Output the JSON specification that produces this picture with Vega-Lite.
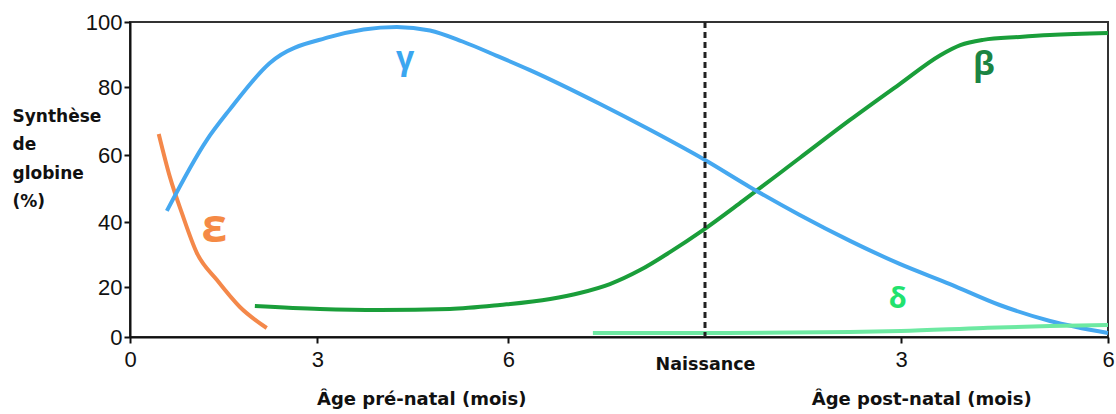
{
  "$schema": "https://vega.github.io/schema/vega-lite/v6.json",
  "autosize": "none",
  "width": 978,
  "height": 315,
  "padding": {"left": 130, "top": 22, "right": 8, "bottom": 77},
  "background": "white",
  "config": {
    "view": {"stroke": "#333333", "strokeWidth": 2},
    "font": "Liberation Sans"
  },
  "datasets": {
    "curves": [
      {"g": "ε", "m": 0.46, "v": 66.2},
      {"g": "ε", "m": 0.64, "v": 53.4},
      {"g": "ε", "m": 0.83, "v": 42.7},
      {"g": "ε", "m": 1.07, "v": 30.5},
      {"g": "ε", "m": 1.39, "v": 22.2},
      {"g": "ε", "m": 1.76, "v": 12.0},
      {"g": "ε", "m": 2.19, "v": 3.6},
      {"g": "β", "m": 2.0, "v": 12.4},
      {"g": "β", "m": 3.04, "v": 11.2},
      {"g": "β", "m": 3.99, "v": 10.8},
      {"g": "β", "m": 5.08, "v": 11.2},
      {"g": "β", "m": 5.87, "v": 12.8},
      {"g": "β", "m": 6.64, "v": 15.2},
      {"g": "β", "m": 7.09, "v": 17.6},
      {"g": "β", "m": 7.55, "v": 20.9},
      {"g": "β", "m": 8.01, "v": 25.2},
      {"g": "β", "m": 8.47, "v": 30.8},
      {"g": "β", "m": 8.97, "v": 37.5},
      {"g": "β", "m": 9.58, "v": 46.3},
      {"g": "β", "m": 10.45, "v": 59.1},
      {"g": "β", "m": 11.22, "v": 70.3},
      {"g": "β", "m": 11.98, "v": 80.9},
      {"g": "β", "m": 12.57, "v": 89.8},
      {"g": "β", "m": 12.86, "v": 92.9},
      {"g": "β", "m": 13.19, "v": 94.5},
      {"g": "β", "m": 13.72, "v": 95.4},
      {"g": "β", "m": 14.16, "v": 96.0},
      {"g": "β", "m": 15.0, "v": 96.6},
      {"g": "γ", "m": 0.59, "v": 43.3},
      {"g": "γ", "m": 1.23, "v": 64.4},
      {"g": "γ", "m": 1.59, "v": 73.2},
      {"g": "γ", "m": 2.24, "v": 87.4},
      {"g": "γ", "m": 3.2, "v": 95.4},
      {"g": "γ", "m": 4.25, "v": 98.5},
      {"g": "γ", "m": 4.77, "v": 97.4},
      {"g": "γ", "m": 5.28, "v": 94.0},
      {"g": "γ", "m": 5.82, "v": 89.6},
      {"g": "γ", "m": 6.33, "v": 85.2},
      {"g": "γ", "m": 7.4, "v": 75.0},
      {"g": "γ", "m": 8.16, "v": 67.4},
      {"g": "γ", "m": 9.0, "v": 58.5},
      {"g": "γ", "m": 9.69, "v": 50.4},
      {"g": "γ", "m": 10.45, "v": 42.1},
      {"g": "γ", "m": 11.22, "v": 34.2},
      {"g": "γ", "m": 11.98, "v": 27.1},
      {"g": "γ", "m": 12.71, "v": 20.9},
      {"g": "γ", "m": 13.43, "v": 12.8},
      {"g": "γ", "m": 14.16, "v": 6.4},
      {"g": "γ", "m": 15.0, "v": 1.6},
      {"g": "δ", "m": 7.29, "v": 1.6},
      {"g": "δ", "m": 9.0, "v": 1.6},
      {"g": "δ", "m": 11.22, "v": 2.0},
      {"g": "δ", "m": 12.0, "v": 2.4},
      {"g": "δ", "m": 13.19, "v": 3.6},
      {"g": "δ", "m": 14.16, "v": 4.4},
      {"g": "δ", "m": 15.0, "v": 4.8}
    ]
  },
  "layer": [
    {
      "data": {"name": "curves"},
      "mark": {"type": "line", "strokeWidth": 4, "interpolate": "monotone", "strokeCap": "butt"},
      "encoding": {
        "x": {
          "field": "m", "type": "quantitative",
          "scale": {"domain": [0, 3, 6, 9, 12, 15], "range": [0, 187.3, 378.3, 575, 771, 978], "nice": false, "zero": false},
          "axis": {
            "title": null,
            "values": [0, 3, 6, 9, 12, 15],
            "labelExpr": "datum.value == 9 ? 'Naissance' : (datum.value > 9 ? '' + (datum.value - 9) : '' + datum.value)",
            "labelFont": {"condition": {"test": "datum.value == 9", "value": "DejaVu Sans"}, "value": "Liberation Sans"},
            "labelFontWeight": {"condition": {"test": "datum.value == 9", "value": "bold"}, "value": "normal"},
            "labelFontSize": {"condition": {"test": "datum.value == 9", "value": 17.5}, "value": 22},
            "labelPadding": {"condition": {"test": "datum.value == 9", "value": 12}, "value": 6},
            "tickOpacity": {"condition": {"test": "datum.value == 9", "value": 0}, "value": 1},
            "labelColor": "#111111",
            "labelFlush": false,
            "labelOverlap": false,
            "grid": false,
            "domainColor": "#111111", "domainWidth": 2,
            "tickColor": "#111111", "tickWidth": 2, "tickSize": 6
          }
        },
        "y": {
          "field": "v", "type": "quantitative",
          "scale": {"domain": [0, 20, 40, 60, 80, 100], "range": [315, 265, 200, 133, 65, 0], "nice": false, "zero": false},
          "axis": {
            "title": ["Synthèse", "de", "globine", "(%)"],
            "titleFont": "DejaVu Sans", "titleFontWeight": "bold", "titleFontSize": 17,
            "titleColor": "#111111",
            "titleAngle": 0, "titleAlign": "left", "titleBaseline": "alphabetic",
            "titleX": -118, "titleY": 99, "titleLineHeight": 28.5,
            "values": [0, 20, 40, 60, 80, 100],
            "labelFont": "Liberation Sans", "labelFontSize": 22, "labelColor": "#111111",
            "labelPadding": 2,
            "labelFlush": false,
            "grid": false,
            "domainColor": "#111111", "domainWidth": 2,
            "tickColor": "#111111", "tickWidth": 2, "tickSize": 6
          }
        },
        "color": {
          "field": "g", "type": "nominal",
          "scale": {"domain": ["ε", "β", "γ", "δ"], "range": ["#F4884A", "#1A9E3A", "#45A8F0", "#6DE9A2"]},
          "legend": null
        },
        "detail": {"field": "g"}
      }
    },
    {
      "data": {"values": [{}]},
      "mark": {"type": "rule", "strokeDash": [6, 4], "strokeWidth": 3, "color": "#222222"},
      "encoding": {"x": {"datum": 9, "type": "quantitative"}}
    },
    {
      "data": {"values": [{}]},
      "mark": {"type": "text", "font": "Open Sans", "fontWeight": "bold", "fontSize": 32, "color": "#3BA6F0", "align": "center", "baseline": "alphabetic"},
      "encoding": {"x": {"datum": 4.38, "type": "quantitative"}, "y": {"datum": 85.5, "type": "quantitative"}, "text": {"value": "γ"}}
    },
    {
      "data": {"values": [{}]},
      "mark": {"type": "text", "font": "Open Sans", "fontWeight": "bold", "fontSize": 33, "color": "#1B8443", "align": "center", "baseline": "alphabetic"},
      "encoding": {"x": {"datum": 13.2, "type": "quantitative"}, "y": {"datum": 83.7, "type": "quantitative"}, "text": {"value": "β"}}
    },
    {
      "data": {"values": [{}]},
      "mark": {"type": "text", "font": "Open Sans", "fontWeight": "bold", "fontSize": 46, "color": "#F58A45", "align": "center", "baseline": "alphabetic"},
      "encoding": {"x": {"datum": 1.35, "type": "quantitative"}, "y": {"datum": 33.8, "type": "quantitative"}, "text": {"value": "ε"}}
    },
    {
      "data": {"values": [{}]},
      "mark": {"type": "text", "font": "Open Sans", "fontWeight": "bold", "fontSize": 29, "color": "#22E26E", "align": "center", "baseline": "alphabetic"},
      "encoding": {"x": {"datum": 11.95, "type": "quantitative"}, "y": {"datum": 11.6, "type": "quantitative"}, "text": {"value": "δ"}}
    },
    {
      "data": {"values": [{}]},
      "mark": {"type": "text", "font": "DejaVu Sans", "fontWeight": "bold", "fontSize": 18, "color": "#111111", "align": "center", "baseline": "alphabetic", "dy": 68},
      "encoding": {"x": {"datum": 4.64, "type": "quantitative"}, "y": {"datum": 0, "type": "quantitative"}, "text": {"value": "Âge pré-natal (mois)"}}
    },
    {
      "data": {"values": [{}]},
      "mark": {"type": "text", "font": "DejaVu Sans", "fontWeight": "bold", "fontSize": 18, "color": "#111111", "align": "center", "baseline": "alphabetic", "dy": 68},
      "encoding": {"x": {"datum": 12.3, "type": "quantitative"}, "y": {"datum": 0, "type": "quantitative"}, "text": {"value": "Âge post-natal (mois)"}}
    }
  ]
}
